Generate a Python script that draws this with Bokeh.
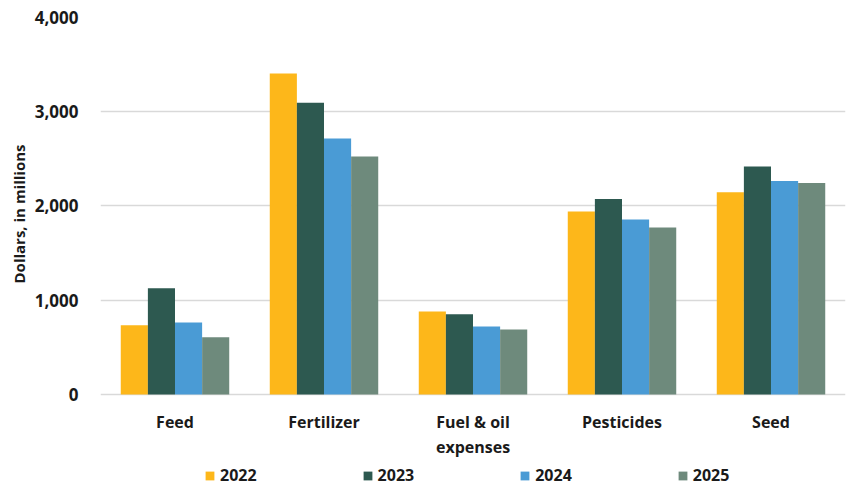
from bokeh.plotting import figure
from bokeh.models import ColumnDataSource, FactorRange, Legend, LegendItem, NumeralTickFormatter, Range1d, Title
from bokeh.core.properties import value
from bokeh.transform import dodge
from bokeh.embed import file_html
from bokeh.resources import INLINE

categories = ["Feed", "Fertilizer", "Fuel & oil\nexpenses", "Pesticides", "Seed"]
years = ["2022", "2023", "2024", "2025"]
v2022 = [735, 3405, 880, 1941, 2145]
v2023 = [1128, 3095, 852, 2075, 2418]
v2024 = [765, 2715, 722, 1856, 2266]
v2025 = [607, 2525, 690, 1771, 2245]
colors = ["#FDB71A", "#2D5950", "#4A9BD5", "#6E8A7C"]
y_ticks = [0, 1000, 2000, 3000, 4000]

src = ColumnDataSource(dict(cat=categories, y2022=v2022, y2023=v2023, y2024=v2024, y2025=v2025))

# frame extends below zero to hold category labels and legend
p = figure(frame_width=745, frame_height=472, x_range=FactorRange(*categories), y_range=Range1d(-1008, 4000),
           output_backend="svg", toolbar_location=None,
           min_border_left=100, min_border_right=4, min_border_top=17, min_border_bottom=0)
p.outline_line_color = None
p.background_fill_color = "white"
p.border_fill_color = "white"

offsets = [-0.273, -0.091, 0.091, 0.273]
renderers = []
for yr, off, c in zip(years, offsets, colors):
    r = p.vbar(x=dodge("cat", off, range=p.x_range), top="y" + yr, width=0.182, source=src,
               fill_color=c, line_color=None)
    renderers.append(r)

p.x_range.range_padding = 0
p.yaxis.ticker = y_ticks
p.yaxis.formatter = NumeralTickFormatter(format="0,0")
p.yaxis.axis_line_color = None
p.yaxis.major_tick_line_color = None
p.yaxis.minor_tick_line_color = None
p.yaxis.major_label_text_font = "Open Sans"
p.yaxis.major_label_text_font_style = "bold"
p.yaxis.major_label_text_font_size = "17px"
p.yaxis.major_label_text_color = "#1a1a1a"
p.yaxis.major_label_standoff = 16
p.ygrid.ticker = y_ticks
p.ygrid.grid_line_color = "#d9d9d9"
p.ygrid.grid_line_width = 1.5
p.xgrid.grid_line_color = None
p.xaxis.visible = False

ylabel = Title(text="Dollars, in millions", align="left", offset=206,
               text_font="Open Sans", text_font_style="bold", text_font_size="15px",
               text_color="#1a1a1a", standoff=6)
p.add_layout(ylabel, "left")

# category labels
p.text(x=categories, y=[-170] * len(categories), text=categories,
       text_font=value("Open Sans"), text_font_style="bold", text_font_size="16px",
       text_color="#1a1a1a", text_align="center", text_baseline="top", text_line_height=1.15)

legend = Legend(items=[LegendItem(label=yr, renderers=[r]) for yr, r in zip(years, renderers)],
                orientation="horizontal", location=(104, 3))
legend.border_line_color = None
legend.background_fill_alpha = 0
legend.label_text_font = "Open Sans"
legend.label_text_font_style = "bold"
legend.label_text_font_size = "16px"
legend.label_text_color = "#1a1a1a"
legend.glyph_width = 11
legend.glyph_height = 11
legend.spacing = 105
legend.padding = 0
legend.margin = 0
legend.label_standoff = 5
legend.label_height = 18
p.add_layout(legend, "center")

open("out.html", "w").write(file_html(p, INLINE))
